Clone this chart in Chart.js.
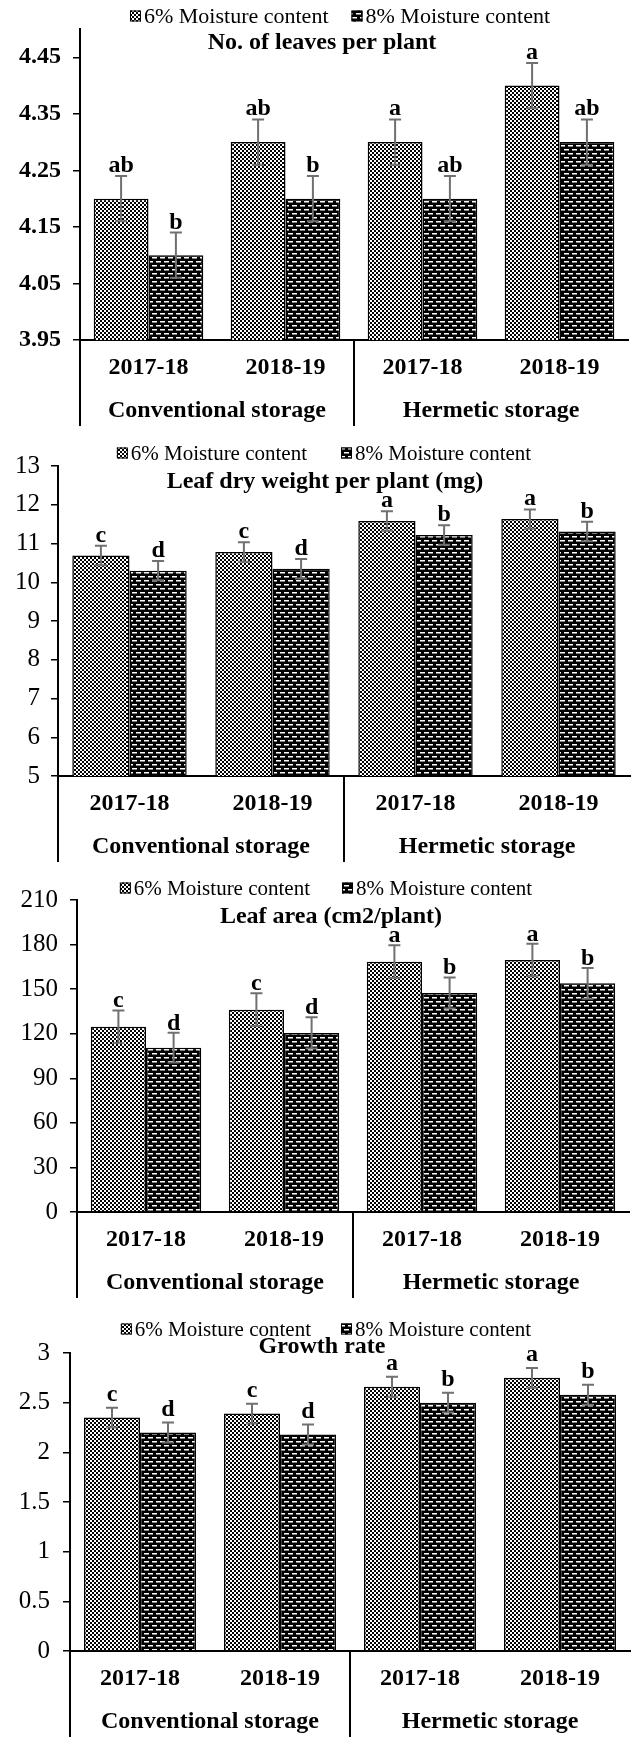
<!DOCTYPE html>
<html>
<head>
<meta charset="utf-8">
<title>Seedling leaf traits by storage and moisture content</title>
<script src="https://cdn.jsdelivr.net/npm/chart.js@4.4.1/dist/chart.umd.min.js"></script>
<style>
  html, body { margin: 0; padding: 0; background: #fff; }
  #page { position: relative; width: 632px; height: 1739px; overflow: hidden; }
  .panel { position: absolute; left: 0; width: 632px; }
</style>
</head>
<body>
<div id="page">
  <div class="panel" style="top:0px;height:435px"><canvas id="leaves"></canvas></div>
  <div class="panel" style="top:435px;height:433px"><canvas id="dryWeight"></canvas></div>
  <div class="panel" style="top:868px;height:436px"><canvas id="leafArea"></canvas></div>
  <div class="panel" style="top:1304px;height:435px"><canvas id="growth"></canvas></div>
</div>
<script>
// ---- shared labels ----
const years = ['2017-18', '2018-19', '2017-18', '2018-19'];
const storageGroups = ['Conventional storage', 'Hermetic storage'];
const seriesNames = ['6% Moisture content', '8% Moisture content'];

// ---- No. of leaves per plant ----
const leavesMc6 = [4.2, 4.3, 4.3, 4.4];
const leavesMc8 = [4.1, 4.2, 4.2, 4.3];
const leavesErr6 = [0.04, 0.04, 0.04, 0.04];
const leavesErr8 = [0.04, 0.04, 0.04, 0.04];
const leavesLetters6 = ['ab', 'ab', 'a', 'a'];
const leavesLetters8 = ['b', 'b', 'ab', 'ab'];
const leavesTicks = [3.95, 4.05, 4.15, 4.25, 4.35, 4.45];

// ---- Leaf dry weight per plant (mg) ----
const dryMc6 = [10.69, 10.78, 11.58, 11.63];
const dryMc8 = [10.30, 10.35, 11.22, 11.31];
const dryErr6 = [0.25, 0.25, 0.25, 0.25];
const dryErr8 = [0.25, 0.25, 0.25, 0.25];
const dryLetters6 = ['c', 'c', 'a', 'a'];
const dryLetters8 = ['d', 'd', 'b', 'b'];
const dryTicks = [5, 6, 7, 8, 9, 10, 11, 12, 13];

// ---- Leaf area (cm2/plant) ----
const areaMc6 = [124.7, 136.2, 168.5, 169.6];
const areaMc8 = [110.6, 120.5, 147.4, 153.9];
const areaErr6 = [11, 11, 11, 11];
const areaErr8 = [10, 10.5, 10.5, 10.3];
const areaLetters6 = ['c', 'c', 'a', 'a'];
const areaLetters8 = ['d', 'd', 'b', 'b'];
const areaTicks = [0, 30, 60, 90, 120, 150, 180, 210];

// ---- Growth rate ----
const growthMc6 = [2.35, 2.39, 2.66, 2.75];
const growthMc8 = [2.20, 2.18, 2.50, 2.58];
const growthErr6 = [0.1, 0.1, 0.1, 0.1];
const growthErr8 = [0.1, 0.1, 0.1, 0.1];
const growthLetters6 = ['c', 'c', 'a', 'a'];
const growthLetters8 = ['d', 'd', 'b', 'b'];
const growthTicks = [0, 0.5, 1, 1.5, 2, 2.5, 3];

const SERIF = '"Liberation Serif", "Times New Roman", Times, serif';
const ERR_COLOR = '#707070';

// fill textures: fine checker for 6 %, white dashes on black for 8 %
function checkerPattern() {
  const c = document.createElement('canvas');
  c.width = 4; c.height = 4;
  const g = c.getContext('2d');
  g.fillStyle = '#fff'; g.fillRect(0, 0, 4, 4);
  g.fillStyle = '#000';
  g.fillRect(0, 0, 2, 2);
  g.fillRect(2, 2, 2, 2);
  return g.createPattern(c, 'repeat');
}
function dashPattern() {
  const c = document.createElement('canvas');
  c.width = 8; c.height = 8;
  const g = c.getContext('2d');
  g.fillStyle = '#000'; g.fillRect(0, 0, 8, 8);
  g.fillStyle = '#fff';
  g.fillRect(0, 1, 5, 1.5);
  g.fillRect(4, 5, 4, 1.5);
  g.fillRect(0, 5, 1, 1.5);
  return g.createPattern(c, 'repeat');
}
const fill6 = checkerPattern();
const fill8 = dashPattern();

// error bars, letters, title, legend and the two-level category axis
function panelDecor(cfg) {
  return {
    id: 'panelDecor',
    afterDatasetsDraw(chart) {
      const ctx = chart.ctx;
      const y = chart.scales.y;
      chart.data.datasets.forEach((ds, di) => {
        const meta = chart.getDatasetMeta(di);
        meta.data.forEach((bar, i) => {
          const v = ds.data[i];
          const e = cfg.errors[di][i];
          const yt = y.getPixelForValue(v + e);
          const yb = y.getPixelForValue(v - e);
          ctx.save();
          ctx.strokeStyle = ERR_COLOR;
          ctx.lineWidth = 2;
          ctx.beginPath();
          ctx.moveTo(bar.x, yt); ctx.lineTo(bar.x, yb);
          ctx.moveTo(bar.x - 6, yt); ctx.lineTo(bar.x + 6, yt);
          ctx.moveTo(bar.x - 6, yb); ctx.lineTo(bar.x + 6, yb);
          ctx.stroke();
          ctx.fillStyle = '#000';
          ctx.font = 'bold 24px ' + SERIF;
          ctx.textAlign = 'center';
          ctx.textBaseline = 'alphabetic';
          ctx.fillText(cfg.letters[di][i], bar.x, yt - cfg.labelGap);
          ctx.restore();
        });
      });
    },
    afterDraw(chart) {
      const ctx = chart.ctx;
      const x = chart.scales.x;
      const area = chart.chartArea;
      ctx.save();

      // title
      ctx.fillStyle = '#000';
      ctx.font = 'bold 24px ' + SERIF;
      ctx.textAlign = 'center';
      ctx.textBaseline = 'middle';
      ctx.fillText(cfg.title, cfg.titleX, cfg.titleY);

      // legend
      ctx.font = cfg.legendSize + 'px ' + SERIF;
      const box = 11, pad = 3;
      const w0 = ctx.measureText(seriesNames[0]).width;
      const w1 = ctx.measureText(seriesNames[1]).width;
      const total = box + pad + w0 + cfg.legendGap + box + pad + w1;
      let lx = cfg.legendX - total / 2;
      const fills = [fill6, fill8];
      [w0, w1].forEach((w, k) => {
        ctx.fillStyle = fills[k];
        ctx.fillRect(lx, cfg.legendY - box / 2, box, box);
        ctx.strokeStyle = '#000';
        ctx.lineWidth = 1;
        ctx.strokeRect(lx + 0.5, cfg.legendY - box / 2 + 0.5, box - 1, box - 1);
        ctx.fillStyle = '#000';
        ctx.textAlign = 'left';
        ctx.fillText(seriesNames[k], lx + box + pad, cfg.legendY + 1);
        lx += box + pad + w + cfg.legendGap;
      });

      // category labels (years)
      ctx.font = 'bold 24px ' + SERIF;
      ctx.textAlign = 'center';
      ctx.textBaseline = 'middle';
      years.forEach((lab, i) => {
        ctx.fillText(lab, x.getPixelForValue(i), area.bottom + 28);
      });
      // storage groups
      storageGroups.forEach((lab, g) => {
        const cx = (x.getPixelForValue(2 * g) + x.getPixelForValue(2 * g + 1)) / 2;
        ctx.fillText(lab, cx, area.bottom + 71);
      });
      // group dividers
      ctx.strokeStyle = '#000';
      ctx.lineWidth = 2;
      const mid = (x.getPixelForValue(1) + x.getPixelForValue(2)) / 2;
      ctx.beginPath();
      ctx.moveTo(area.left, area.bottom);
      ctx.lineTo(area.left, area.bottom + 86);
      ctx.moveTo(mid, area.bottom);
      ctx.lineTo(mid, area.bottom + 86);
      ctx.stroke();
      ctx.restore();
    }
  };
}

function buildPanel(canvasId, cfg) {
  const height = document.getElementById(canvasId).parentNode.clientHeight;
  return new Chart(document.getElementById(canvasId), {
    type: 'bar',
    data: {
      labels: years,
      datasets: [
        { label: seriesNames[0], data: cfg.series[0], backgroundColor: fill6,
          borderColor: '#000', borderWidth: 1.5 },
        { label: seriesNames[1], data: cfg.series[1], backgroundColor: fill8,
          borderColor: '#000', borderWidth: 1.5 }
      ]
    },
    options: {
      responsive: true,
      maintainAspectRatio: false,
      animation: false,
      events: [],
      layout: { padding: { top: cfg.top, right: 632 - cfg.right, left: 0, bottom: 0 } },
      datasets: { bar: { barPercentage: 1, categoryPercentage: 0.8 } },
      plugins: {
        legend: { display: false },
        title: { display: false },
        tooltip: { enabled: false }
      },
      scales: {
        x: {
          type: 'category',
          grid: { display: false },
          ticks: { display: false },
          border: { display: true, color: '#000', width: 2 },
          afterFit(s) { s.height = height - cfg.bottom; }
        },
        y: {
          min: cfg.min,
          max: cfg.max,
          grid: { drawOnChartArea: false, drawTicks: true, tickLength: 7,
                  color: '#000', tickColor: '#000', lineWidth: 1.5 },
          border: { display: true, color: '#000', width: 2 },
          ticks: {
            color: '#000',
            padding: cfg.tickPad,
            font: { family: SERIF, size: cfg.tickSize, weight: cfg.tickWeight },
            callback: (v) => cfg.tickFormat(v)
          },
          afterBuildTicks(s) { s.ticks = cfg.ticks.map(v => ({ value: v })); },
          afterFit(s) { s.width = cfg.left; }
        }
      }
    },
    plugins: [panelDecor(cfg)]
  });
}

buildPanel('leaves', {
  series: [leavesMc6, leavesMc8], errors: [leavesErr6, leavesErr8],
  letters: [leavesLetters6, leavesLetters8], ticks: leavesTicks,
  min: 3.95, max: 4.5, tickFormat: v => v.toFixed(2),
  tickSize: 24, tickWeight: 'bold', tickPad: 12,
  top: 29, bottom: 340, left: 80, right: 628,
  title: 'No. of leaves per plant', titleX: 322, titleY: 43,
  legendX: 340, legendY: 16, legendGap: 23, legendSize: 22, labelGap: 4
});

buildPanel('dryWeight', {
  series: [dryMc6, dryMc8], errors: [dryErr6, dryErr8],
  letters: [dryLetters6, dryLetters8], ticks: dryTicks,
  min: 5, max: 13, tickFormat: v => String(v),
  tickSize: 25, tickWeight: 'normal', tickPad: 11,
  top: 31, bottom: 341, left: 58, right: 630,
  title: 'Leaf dry weight per plant (mg)', titleX: 325, titleY: 47,
  legendX: 324, legendY: 18, legendGap: 34, legendSize: 21, labelGap: 4
});

buildPanel('leafArea', {
  series: [areaMc6, areaMc8], errors: [areaErr6, areaErr8],
  letters: [areaLetters6, areaLetters8], ticks: areaTicks,
  min: 0, max: 210, tickFormat: v => String(v),
  tickSize: 25, tickWeight: 'normal', tickPad: 12,
  top: 32, bottom: 344, left: 77, right: 629,
  title: 'Leaf area (cm2/plant)', titleX: 331, titleY: 49,
  legendX: 326, legendY: 20, legendGap: 32, legendSize: 21, labelGap: 3
});

buildPanel('growth', {
  series: [growthMc6, growthMc8], errors: [growthErr6, growthErr8],
  letters: [growthLetters6, growthLetters8], ticks: growthTicks,
  min: 0, max: 3, tickFormat: v => String(v),
  tickSize: 25, tickWeight: 'normal', tickPad: 13,
  top: 49, bottom: 347, left: 70, right: 630,
  title: 'Growth rate', titleX: 322, titleY: 43,
  legendX: 326, legendY: 25, legendGap: 30, legendSize: 21, labelGap: 7
});
</script>
</body>
</html>
